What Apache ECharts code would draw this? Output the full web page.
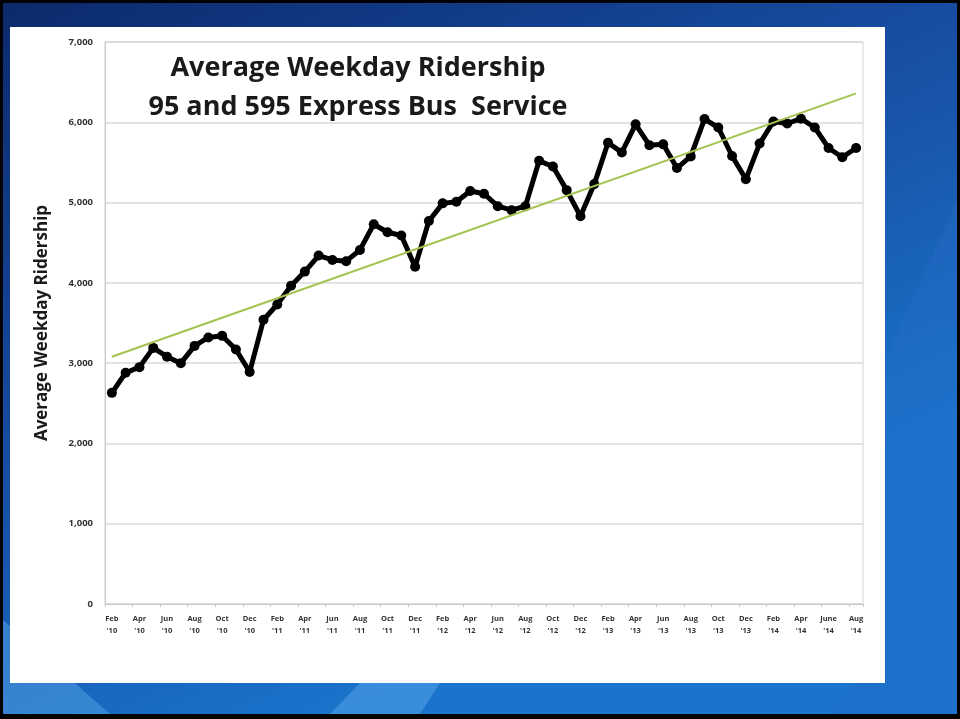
<!DOCTYPE html>
<html>
<head>
<meta charset="utf-8">
<script src="https://cdn.jsdelivr.net/npm/echarts@6/dist/echarts.min.js"></script>
<style>
  html, body { margin: 0; padding: 0; background: #000; }
  #chart { width: 960px; height: 719px; }
</style>
</head>
<body>
<div id="chart"></div>
<script>
// monthly ridership, Feb '10 .. Aug '14
var months = [
  "Feb\n'10", "Mar\n'10", "Apr\n'10", "May\n'10", "Jun\n'10", "Jul\n'10", "Aug\n'10", "Sep\n'10", "Oct\n'10", "Nov\n'10", "Dec\n'10",
  "Jan\n'11", "Feb\n'11", "Mar\n'11", "Apr\n'11", "May\n'11", "Jun\n'11", "Jul\n'11", "Aug\n'11", "Sep\n'11", "Oct\n'11", "Nov\n'11", "Dec\n'11",
  "Jan\n'12", "Feb\n'12", "Mar\n'12", "Apr\n'12", "May\n'12", "Jun\n'12", "Jul\n'12", "Aug\n'12", "Sep\n'12", "Oct\n'12", "Nov\n'12", "Dec\n'12",
  "Jan\n'13", "Feb\n'13", "Mar\n'13", "Apr\n'13", "May\n'13", "Jun\n'13", "Jul\n'13", "Aug\n'13", "Sep\n'13", "Oct\n'13", "Nov\n'13", "Dec\n'13",
  "Jan\n'14", "Feb\n'14", "Mar\n'14", "Apr\n'14", "May\n'14", "June\n'14", "Jul\n'14", "Aug\n'14"
];
var ridership = [
  2630, 2880, 2950, 3190, 3080, 3000, 3215, 3320, 3340, 3170, 2890,
  3540, 3730, 3965, 4140, 4340, 4285, 4270, 4410, 4730, 4630, 4590, 4200,
  4770, 4990, 5010, 5145, 5110, 4955, 4905, 4955, 5520, 5450, 5155, 4830,
  5230, 5745, 5625, 5975, 5715, 5725, 5430, 5575, 6040, 5935, 5580, 5290,
  5735, 6010, 5985, 6045, 5935, 5680, 5565, 5680
];
// linear trend line, read at its two ends
var trendEnds = [3080, 6360];
var yTicks = [0, 1000, 2000, 3000, 4000, 5000, 6000, 7000];

var myChart = echarts.init(document.getElementById('chart'));

option = {
  backgroundColor: '#000',
  animation: false,
  graphic: [
    {
      type: 'rect', z: -20, silent: true,
      shape: { x: 3, y: 3, width: 954, height: 711 },
      style: {
        fill: new echarts.graphic.LinearGradient(0, 0, 0.35, 1, [
          { offset: 0, color: '#0b2a6c' },
          { offset: 0.5, color: '#174b9f' },
          { offset: 1, color: '#1a73cc' }
        ])
      }
    },
    {
      type: 'polygon', z: -19, silent: true,
      shape: { points: [[3, 620], [110, 714], [3, 714]] },
      style: { fill: 'rgba(90,170,235,0.45)' }
    },
    {
      type: 'polygon', z: -19, silent: true,
      shape: { points: [[360, 683], [440, 683], [420, 714], [330, 714]] },
      style: { fill: 'rgba(120,190,245,0.35)' }
    },
    {
      type: 'polygon', z: -19, silent: true,
      shape: { points: [[885, 360], [957, 200], [957, 714], [830, 714], [885, 640]] },
      style: { fill: 'rgba(40,110,200,0.35)' }
    },
    {
      type: 'rect', z: -10, silent: true,
      shape: { x: 10, y: 27, width: 875, height: 656 },
      style: { fill: '#ffffff' }
    }
  ],
  title: {
    text: 'Average Weekday Ridership\n95 and 595 Express Bus  Service',
    left: 353,
    top: 44,
    textAlign: 'center',
    textStyle: {
      fontFamily: 'Open Sans',
      fontWeight: 'bold',
      fontSize: 27,
      lineHeight: 39,
      color: '#1a1a1a'
    }
  },
  grid: {
    left: 105,
    right: 97,
    top: 42,
    bottom: 115,
    show: true,
    borderColor: '#d4d4d4',
    borderWidth: 1,
    backgroundColor: '#ffffff'
  },
  xAxis: {
    type: 'category',
    data: months,
    boundaryGap: true,
    axisLine: { lineStyle: { color: '#c8c8c8' } },
    axisTick: { show: true, alignWithLabel: false, length: 3, lineStyle: { color: '#c8c8c8' } },
    axisLabel: {
      interval: 1,
      margin: 9,
      fontFamily: 'Open Sans',
      fontWeight: 'bold',
      fontSize: 7.5,
      lineHeight: 12,
      color: '#333'
    }
  },
  yAxis: {
    type: 'value',
    min: yTicks[0],
    max: yTicks[yTicks.length - 1],
    interval: 1000,
    name: 'Average Weekday Ridership',
    nameLocation: 'middle',
    nameGap: 54,
    nameTextStyle: {
      fontFamily: 'Open Sans',
      fontWeight: 'bold',
      fontSize: 17,
      color: '#1a1a1a'
    },
    axisLine: { show: true, lineStyle: { color: '#c8c8c8' } },
    axisTick: { show: false },
    splitLine: { lineStyle: { color: '#d9d9d9', width: 1.5 } },
    axisLabel: {
      margin: 12,
      fontFamily: 'Open Sans',
      fontWeight: 'bold',
      fontSize: 9.5,
      color: '#333',
      formatter: function (v) { return v === 0 ? '0' : v.toLocaleString('en-US'); }
    }
  },
  series: [
    {
      name: 'Ridership',
      type: 'line',
      data: ridership,
      showSymbol: true,
      showAllSymbol: true,
      symbol: 'circle',
      symbolSize: 10,
      itemStyle: { color: '#000' },
      lineStyle: { color: '#000', width: 5 },
      z: 3
    },
    {
      name: 'Trend',
      type: 'line',
      data: [[0, trendEnds[0]], [months.length - 1, trendEnds[1]]],
      symbol: 'none',
      lineStyle: { color: '#a4c24e', width: 2 },
      z: 4
    }
  ]
};

myChart.setOption(option);
</script>
</body>
</html>
